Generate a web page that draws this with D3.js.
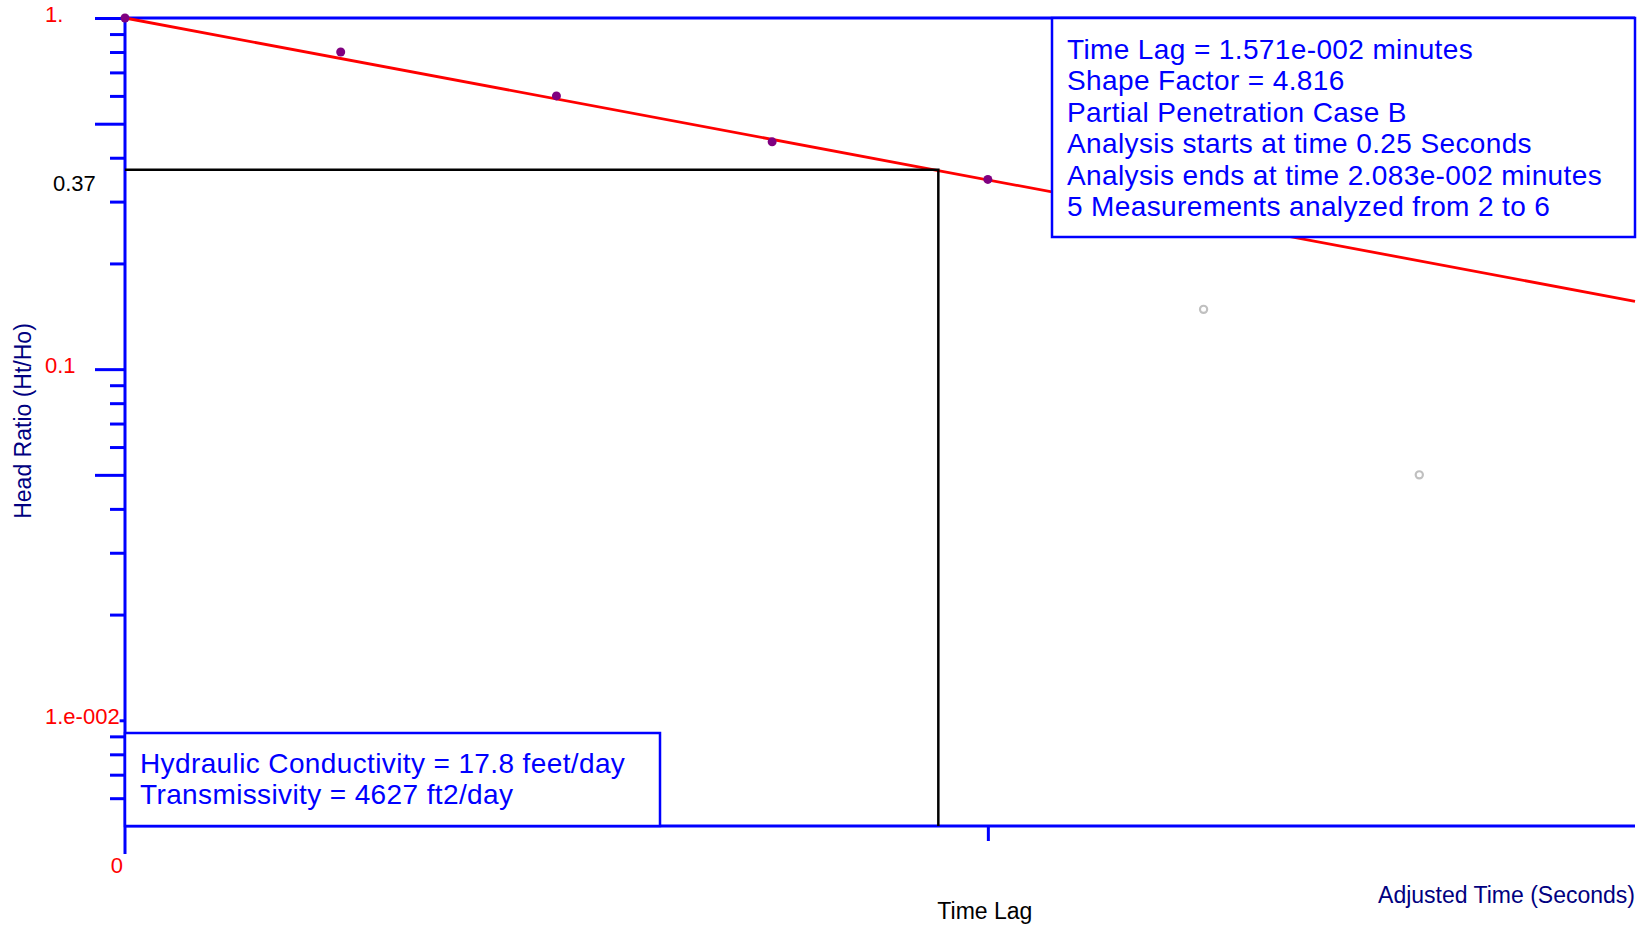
<!DOCTYPE html>
<html lang="en">
<head>
    <meta charset="UTF-8">
    <title>Head Ratio vs Adjusted Time</title>
    <script src="https://d3js.org/d3.v7.min.js"></script>
    <style>
        body {
            margin: 0;
            background: #fff;
        }
        svg text {
            font-family: "Liberation Sans", Arial, sans-serif;
        }
        .tick-label {
            font-size: 22px;
            fill: #ff0000;
        }
        .axis-title {
            font-size: 23px;
            fill: #000080;
        }
        .box-text {
            font-size: 28px;
            letter-spacing: 0.38px;
            fill: #0000ff;
        }
    </style>
</head>
<body>
    <svg width="1637" height="927"></svg>
    <script>
        // measurements (adjusted time in seconds, head ratio Ht/Ho)
        const times = [0, 0.25, 0.5, 0.75, 1.0, 1.25, 1.5];
        const headRatio = [1.0, 0.80, 0.60, 0.444, 0.347, 0.148, 0.050];
        const analyzed = [true, true, true, true, true, false, false];

        // fitted line end points
        const fitTimes = [0, 1.75];
        const fitRatio = [1.0, 0.156];

        // time lag construction
        const timeLagSec = 0.9426;
        const refRatio = 0.37;

        const yTickValues = [1, 0.1, 0.01];
        const yTickText = ["1.", "0.1", "1.e-002"];
        const xTickValues = [1.0];

        const resultLines = [
            "Time Lag = 1.571e-002 minutes",
            "Shape Factor = 4.816",
            "Partial Penetration Case B",
            "Analysis starts at time 0.25 Seconds",
            "Analysis ends at time 2.083e-002 minutes",
            "5 Measurements analyzed from 2 to 6"
        ];
        const conductivityLines = [
            "Hydraulic Conductivity = 17.8 feet/day",
            "Transmissivity = 4627 ft2/day"
        ];

        const plotLeft = 125, plotRight = 1635, plotTop = 18, plotBottom = 826;

        const svg = d3.select("svg");

        const x = d3.scaleLinear().domain([0, 1.75]).range([plotLeft, plotRight]);
        const y = d3.scaleLog().domain([0.005, 1]).range([plotBottom, plotTop]);

        // y ticks: majors at 1 and 5 per decade, the rest minor
        const allTicks = y.ticks().filter(v => y(v) < plotBottom - 3);
        const isMajor = v => {
            const m = Math.round(v / Math.pow(10, Math.floor(Math.log10(v) + 1e-9)));
            return m === 1 || m === 5;
        };

        const axisStyle = g => {
            g.attr("color", "#0000ff");
            g.select(".domain").remove();
            g.selectAll(".tick line").attr("stroke-width", 3);
            g.selectAll(".tick text").remove();
        };

        svg.append("g")
            .attr("transform", `translate(${plotLeft},0)`)
            .call(d3.axisLeft(y).tickValues(allTicks.filter(v => !isMajor(v))).tickSize(15))
            .call(axisStyle);
        svg.append("g")
            .attr("transform", `translate(${plotLeft},0)`)
            .call(d3.axisLeft(y).tickValues(allTicks.filter(isMajor)).tickSize(30))
            .call(axisStyle);

        svg.append("g")
            .attr("transform", `translate(0,${plotBottom})`)
            .call(d3.axisBottom(x).tickValues(xTickValues).tickSize(15))
            .call(axisStyle);

        // frame lines
        svg.append("line")
            .attr("x1", plotLeft).attr("x2", plotLeft)
            .attr("y1", plotTop).attr("y2", plotBottom + 28)
            .attr("stroke", "#0000ff").attr("stroke-width", 3);
        svg.append("line")
            .attr("x1", plotLeft).attr("x2", plotRight)
            .attr("y1", plotTop).attr("y2", plotTop)
            .attr("stroke", "#0000ff").attr("stroke-width", 3);
        svg.append("line")
            .attr("x1", plotLeft).attr("x2", plotRight)
            .attr("y1", plotBottom).attr("y2", plotBottom)
            .attr("stroke", "#0000ff").attr("stroke-width", 3);

        // fitted line
        const fit = fitTimes.map((t, i) => [t, fitRatio[i]]);
        svg.append("path")
            .datum(fit)
            .attr("d", d3.line().x(d => x(d[0])).y(d => y(d[1])))
            .attr("fill", "none")
            .attr("stroke", "#ff0000")
            .attr("stroke-width", 2.8);

        // time lag construction lines
        svg.append("path")
            .attr("d", d3.line()([
                [x(0), y(refRatio)],
                [x(timeLagSec), y(refRatio)],
                [x(timeLagSec), plotBottom]
            ]))
            .attr("fill", "none")
            .attr("stroke", "#000")
            .attr("stroke-width", 2.5);

        // points
        const points = times.map((t, i) => ({ t, h: headRatio[i], used: analyzed[i] }));
        svg.selectAll(".pt-used")
            .data(points.filter(d => d.used))
            .enter()
            .append("circle")
            .attr("class", "pt-used")
            .attr("cx", d => x(d.t))
            .attr("cy", d => y(d.h))
            .attr("r", 4.5)
            .attr("fill", "#800080");
        svg.selectAll(".pt-unused")
            .data(points.filter(d => !d.used))
            .enter()
            .append("circle")
            .attr("class", "pt-unused")
            .attr("cx", d => x(d.t))
            .attr("cy", d => y(d.h))
            .attr("r", 3.6)
            .attr("fill", "#fff")
            .attr("stroke", "#c0c0c0")
            .attr("stroke-width", 2.2);

        // results box (top right)
        svg.append("rect")
            .attr("x", 1052).attr("y", plotTop)
            .attr("width", plotRight - 1052).attr("height", 237 - plotTop)
            .attr("fill", "#fff")
            .attr("stroke", "#0000ff").attr("stroke-width", 2.5);
        svg.selectAll(".res-line")
            .data(resultLines)
            .enter()
            .append("text")
            .attr("class", "box-text")
            .attr("x", 1067)
            .attr("y", (d, i) => 58.5 + i * 31.5)
            .text(d => d);

        // conductivity box (bottom left)
        svg.append("rect")
            .attr("x", plotLeft).attr("y", 733)
            .attr("width", 660 - plotLeft).attr("height", plotBottom - 733)
            .attr("fill", "#fff")
            .attr("stroke", "#0000ff").attr("stroke-width", 2.5);
        svg.selectAll(".k-line")
            .data(conductivityLines)
            .enter()
            .append("text")
            .attr("class", "box-text")
            .attr("x", 140)
            .attr("y", (d, i) => 773 + i * 31)
            .text(d => d);

        // y tick labels (white background, they sit over the axis)
        yTickValues.forEach((v, i) => {
            const t = svg.append("text")
                .attr("class", "tick-label")
                .attr("x", 45)
                .attr("y", y(v) + 3.5)
                .text(yTickText[i]);
            const b = t.node().getBBox();
            svg.insert("rect", () => t.node())
                .attr("x", b.x).attr("y", b.y)
                .attr("width", b.width).attr("height", b.height)
                .attr("fill", "#fff");
        });

        svg.append("text")
            .attr("x", 53)
            .attr("y", y(refRatio) + 21)
            .style("font-size", "22px")
            .attr("fill", "#000")
            .text(String(refRatio));

        svg.append("text")
            .attr("class", "tick-label")
            .attr("x", x(0) - 2)
            .attr("y", 873)
            .attr("text-anchor", "end")
            .text("0");

        svg.append("text")
            .attr("x", x(xTickValues[0]) - 3)
            .attr("y", 919)
            .attr("text-anchor", "middle")
            .style("font-size", "23px")
            .attr("fill", "#000")
            .text("Time Lag");

        svg.append("text")
            .attr("class", "axis-title")
            .attr("x", plotRight)
            .attr("y", 903)
            .attr("text-anchor", "end")
            .text("Adjusted Time (Seconds)");

        svg.append("text")
            .attr("class", "axis-title")
            .attr("transform", "translate(31,421) rotate(-90)")
            .attr("text-anchor", "middle")
            .text("Head Ratio (Ht/Ho)");
    </script>
</body>
</html>
